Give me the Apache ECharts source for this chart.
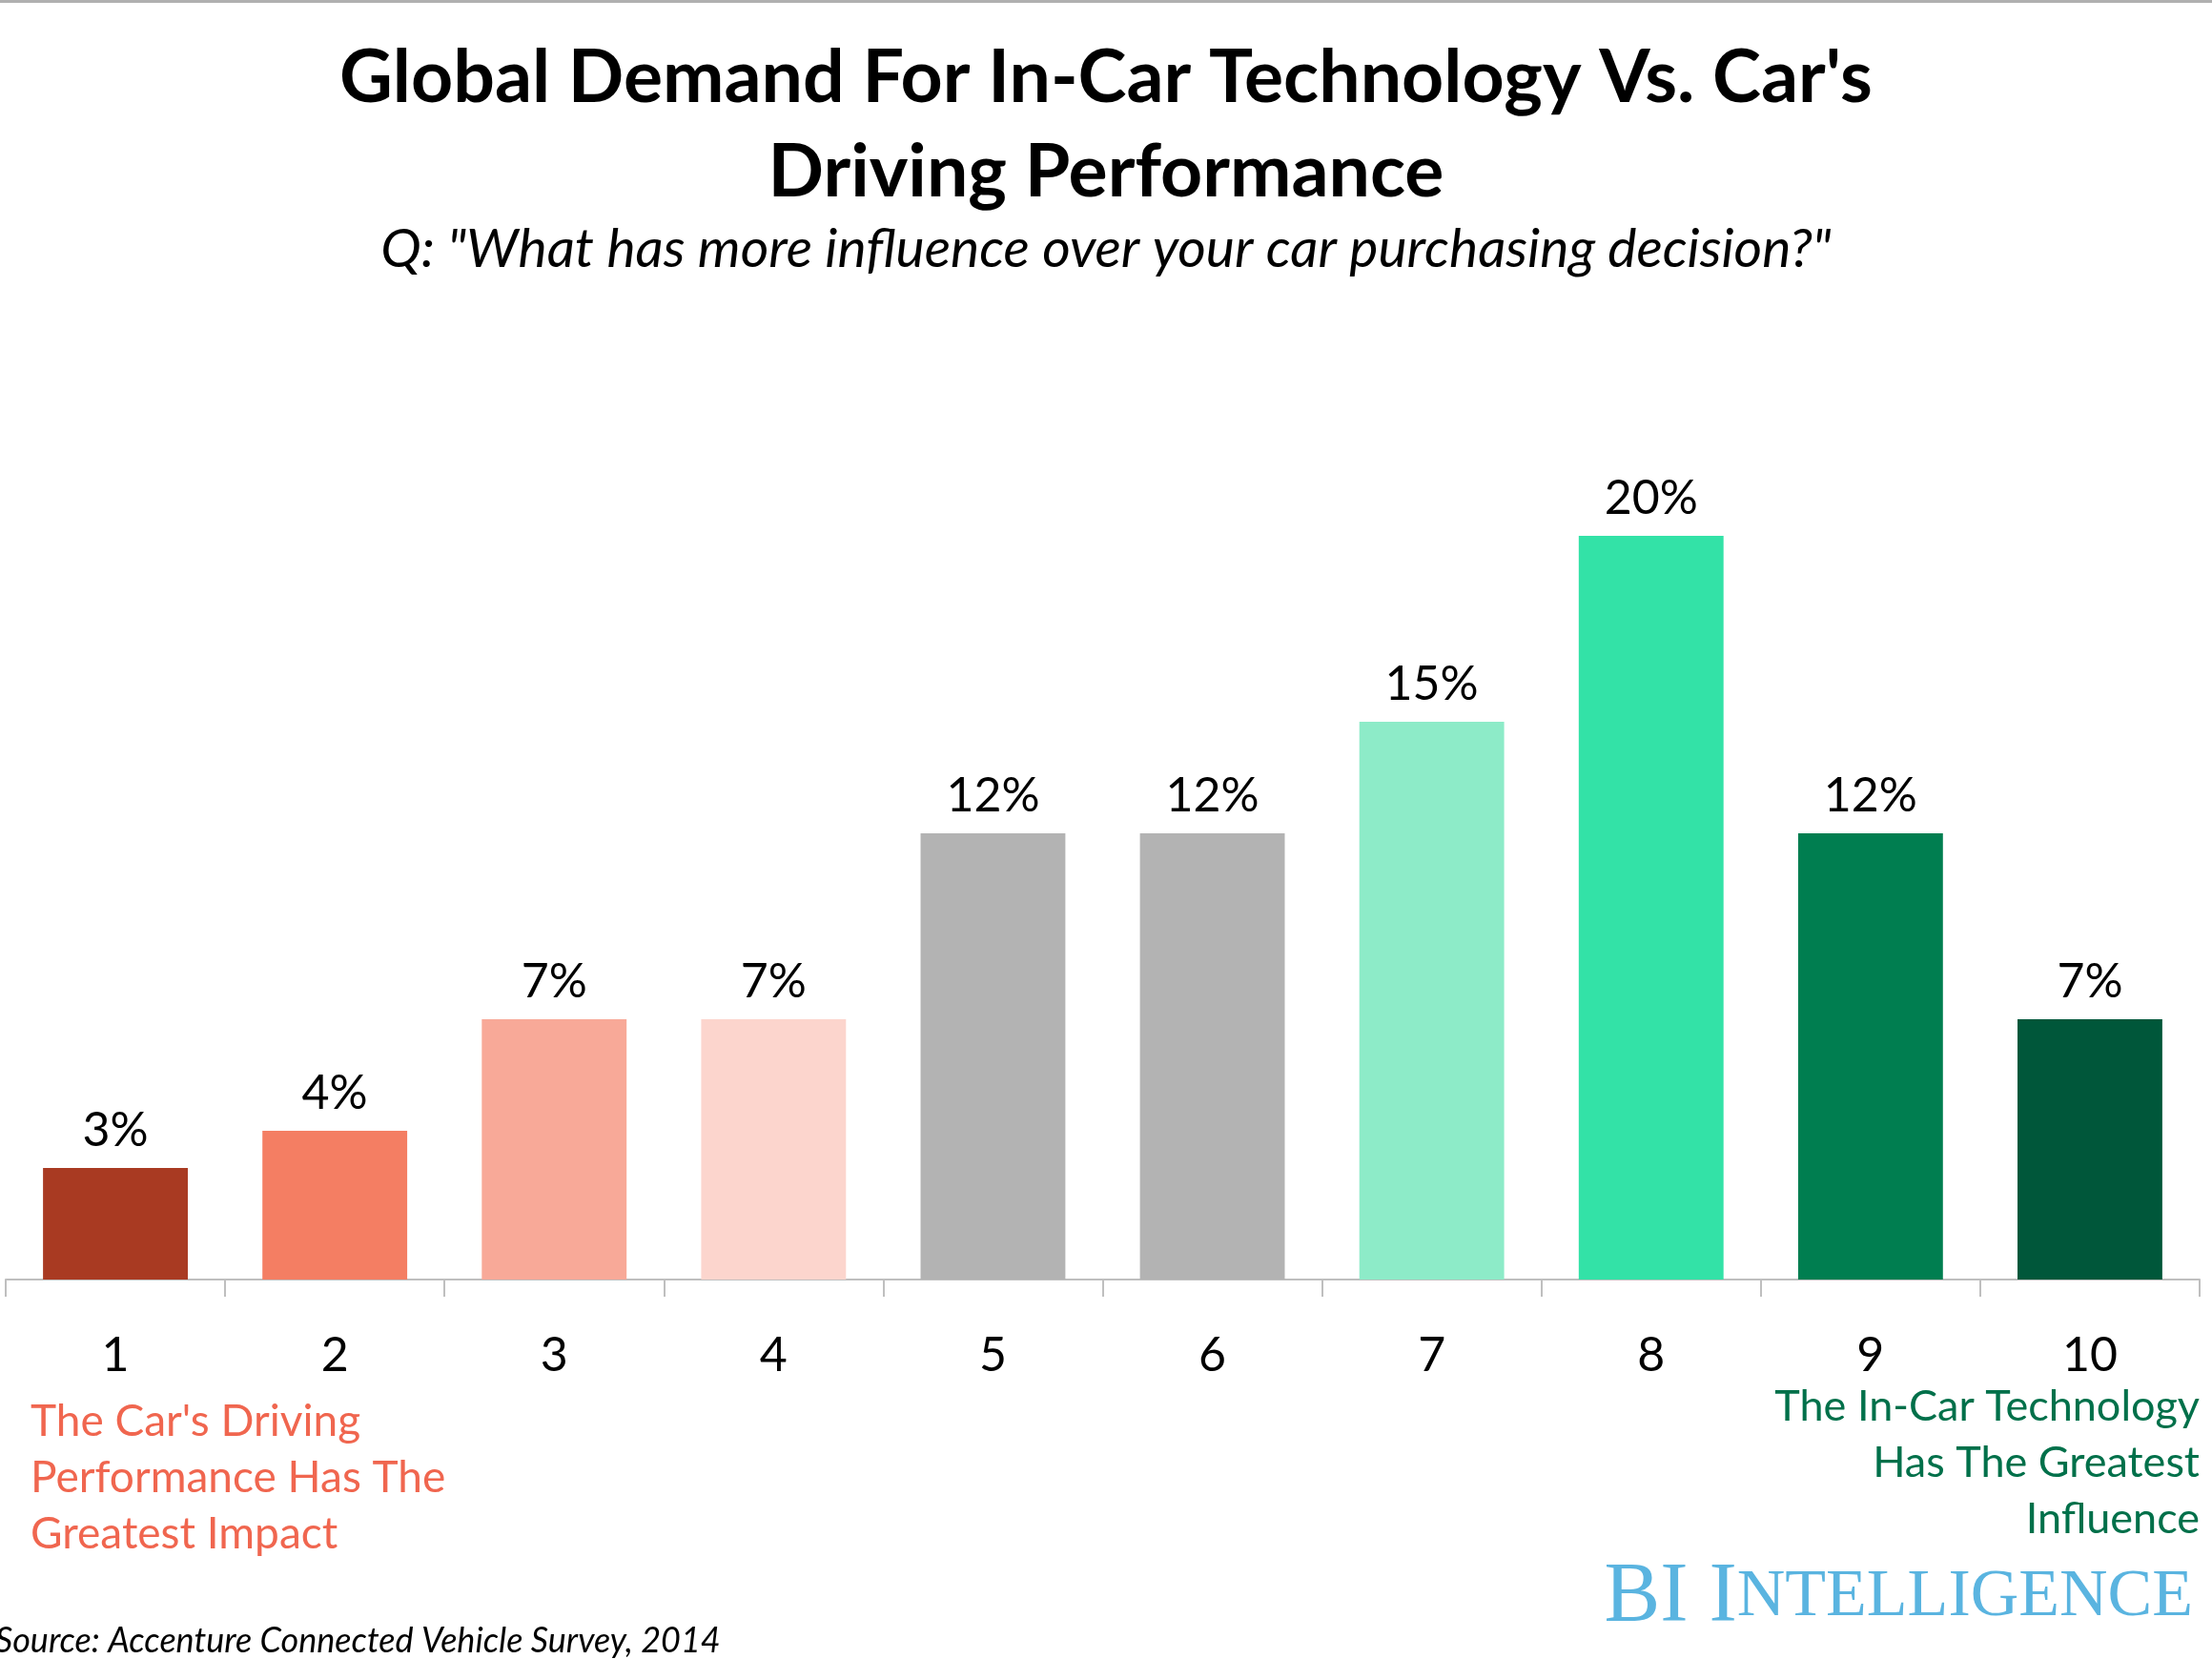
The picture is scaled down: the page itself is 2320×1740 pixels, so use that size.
<!DOCTYPE html>
<html>
<head>
<meta charset="utf-8">
<script src="https://cdn.jsdelivr.net/npm/echarts@6/dist/echarts.min.js"></script>
<style>
  html, body { margin: 0; padding: 0; background: #fff; }
  #main { width: 2320px; height: 1740px; }
</style>
</head>
<body>
<div id="main"></div>
<script>
var categories = ['1', '2', '3', '4', '5', '6', '7', '8', '9', '10'];
var shares = [3, 4, 7, 7, 12, 12, 15, 20, 12, 7];
var barColors = ['#A93A22', '#F47E63', '#F8A998', '#FCD5CD', '#B3B3B3',
                 '#B3B3B3', '#8DEBC8', '#33E2A7', '#007E50', '#00573A'];

var chart = echarts.init(document.getElementById('main'));

var option = {
    backgroundColor: '#fff',
    animation: false,
    textStyle: { fontFamily: 'Lato' },
    title: [{
        text: "Global Demand For In-Car Technology Vs. Car's\nDriving Performance",
        left: 'center',
        top: 28,
        textStyle: { fontFamily: 'Lato', fontWeight: 'bold', fontSize: 77, lineHeight: 99, color: '#000' }
    }, {
        text: 'Q: "What has more influence over your car purchasing decision?"',
        left: 'center',
        top: 228,
        textStyle: { fontFamily: 'Lato', fontStyle: 'italic', fontWeight: 'normal', fontSize: 57, color: '#000' }
    }, {
        text: 'Source: Accenture Connected Vehicle Survey, 2014',
        left: -10,
        top: 1698,
        textStyle: { fontFamily: 'Lato', fontStyle: 'italic', fontWeight: 'normal', fontSize: 36, color: '#000' }
    }],
    grid: { left: 6, right: 13, top: 562, bottom: 398, containLabel: false },
    xAxis: {
        type: 'category',
        data: categories,
        axisLine: { lineStyle: { color: '#BFBFBF', width: 2 } },
        axisTick: { show: true, length: 18, lineStyle: { color: '#BFBFBF', width: 2 } },
        axisLabel: { margin: 55, fontSize: 50, color: '#000', fontFamily: 'Lato' }
    },
    yAxis: { type: 'value', min: 0, max: 20, show: false, splitLine: { show: false } },
    series: [{
        type: 'bar',
        barCategoryGap: '34%',
        data: shares.map(function (v, i) {
            return { value: v, itemStyle: { color: barColors[i] } };
        }),
        label: {
            show: true,
            position: 'top',
            distance: 14,
            formatter: '{c}%',
            fontSize: 50,
            color: '#000',
            fontFamily: 'Lato'
        }
    }],
    graphic: [{
        type: 'rect',
        left: 0, top: 0,
        shape: { width: 2320, height: 3 },
        style: { fill: '#B0B0B0' }
    }, {
        type: 'text',
        x: 32, y: 1462,
        style: {
            text: "The Car's Driving\nPerformance Has The\nGreatest Impact",
            font: '46px Lato', lineHeight: 59, fill: '#F0664F', align: 'left'
        }
    }, {
        type: 'text',
        x: 2307, y: 1446,
        style: {
            text: 'The In-Car Technology\nHas The Greatest\nInfluence',
            font: '45px Lato', lineHeight: 59, fill: '#00704A', align: 'right'
        }
    }, {
        type: 'text',
        x: 2300, y: 1632,
        style: {
            text: '{a|BI }{a|I}{b|NTELLIGENCE}',
            align: 'right',
            rich: {
                a: { fontFamily: 'Liberation Serif', fontSize: 88, fill: '#5AB4E0', color: '#5AB4E0' },
                b: { fontFamily: 'Liberation Serif', fontSize: 70, fill: '#5AB4E0', color: '#5AB4E0' }
            },
            fill: '#5AB4E0'
        }
    }]
};

chart.setOption(option);
</script>
</body>
</html>
